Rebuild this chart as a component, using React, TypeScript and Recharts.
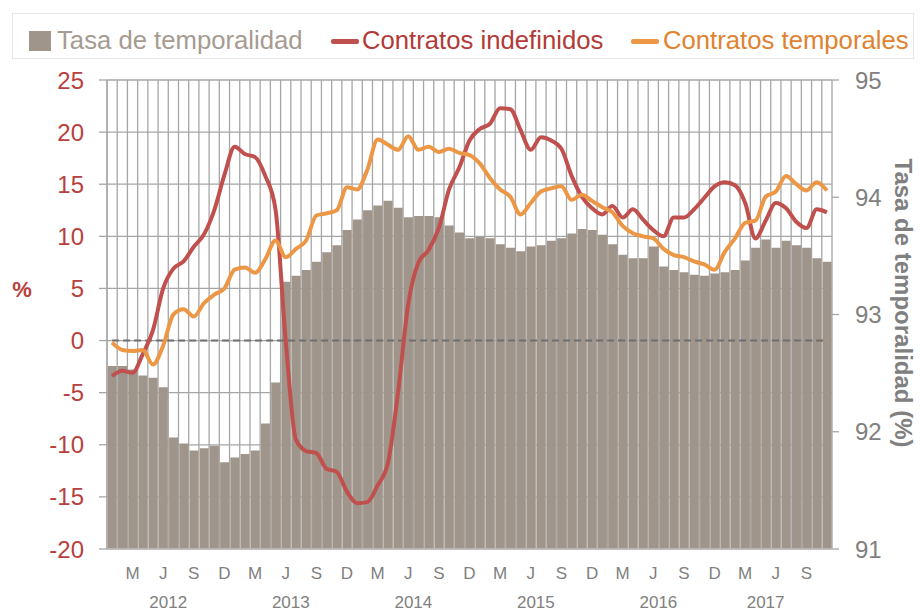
import React from "react";
import {
  ComposedChart,
  Bar,
  Line,
  XAxis,
  YAxis,
  CartesianGrid,
  Label,
} from "recharts";

// monthly data, Jan 2012 .. Nov 2017
const years = ["2012", "2013", "2014", "2015", "2016", "2017"];
const monthLetters = ["E", "F", "M", "A", "M", "J", "J", "A", "S", "O", "N", "D"];
const shownMonths = [2, 5, 8, 11];

// Tasa de temporalidad (%), right axis
const tasa = [
  92.56, 92.56, 92.53, 92.48, 92.46, 92.38, 91.95, 91.9, 91.84, 91.86, 91.88, 91.74,
  91.78, 91.81, 91.84, 92.07, 92.42, 93.28, 93.33, 93.38, 93.45, 93.53, 93.59, 93.72,
  93.81, 93.89, 93.93, 93.97, 93.91, 93.83, 93.84, 93.84, 93.83, 93.76, 93.7, 93.65,
  93.66, 93.65, 93.6, 93.57, 93.54, 93.58, 93.59, 93.63, 93.65, 93.69, 93.73, 93.72,
  93.68, 93.6, 93.51, 93.48, 93.48, 93.58, 93.41, 93.38, 93.36, 93.34, 93.33, 93.35,
  93.36, 93.38, 93.46, 93.57, 93.64, 93.57, 93.63, 93.59, 93.57, 93.48, 93.45,
];

// Contratos indefinidos (% interanual)
const indefinidos = [
  -3.4, -2.9, -3.1, -1.3, 1.0, 5.0, 6.9, 7.6, 9.0, 10.2, 12.5, 15.9,
  18.6, 17.9, 17.6, 15.8, 12.6, 0.0, -9.5, -10.6, -10.8, -12.3, -12.6, -14.5,
  -15.6, -15.5, -13.9, -11.8, -5.0, 3.5, 7.5, 8.7, 10.8, 14.5, 16.6, 19.2,
  20.3, 20.8, 22.3, 22.2, 20.2, 18.3, 19.5, 19.2, 18.4, 15.8, 13.8, 12.7,
  12.1, 12.9, 11.8, 12.6, 11.6, 10.6, 10.0, 11.8, 11.8, 12.6, 13.7, 14.8,
  15.2, 14.9, 13.2, 9.8, 11.5, 13.2, 12.7, 11.4, 10.8, 12.6, 12.3,
];

// Contratos temporales (% interanual)
const temporales = [
  -0.2, -0.9, -1.0, -0.9, -2.3, -0.5, 2.5, 3.0, 2.3, 3.6, 4.4, 5.0,
  6.8, 7.0, 6.5, 7.8, 9.6, 8.0, 8.8, 9.6, 12.0, 12.2, 12.5, 14.7,
  14.5, 16.4, 19.3, 18.8, 18.3, 19.6, 18.3, 18.6, 18.1, 18.4, 18.0, 17.8,
  17.0, 15.6, 14.5, 13.8, 12.1, 13.2, 14.3, 14.6, 14.8, 13.5, 14.0, 13.4,
  12.8, 12.3, 11.0, 10.3, 10.0, 9.8, 8.8, 8.2, 8.0, 7.6, 7.3, 6.8,
  8.5, 9.8, 11.3, 11.5, 13.8, 14.3, 15.8, 15.0, 14.4, 15.2, 14.4,
];

const leftTicks = [-20, -15, -10, -5, 0, 5, 10, 15, 20, 25];
const rightTicks = [91, 92, 93, 94, 95];
const ZERO = 0; // dashed reference level on the left axis

const data = tasa.map((t, i) => ({
  i,
  tasa: t,
  indefinidos: indefinidos[i],
  temporales: temporales[i],
  zero: ZERO,
}));

const W = 920;
const H = 613;
const LEFT_W = 107;
const RIGHT_W = 88;
const PLOT_W = W - LEFT_W - RIGHT_W;
const BAND = PLOT_W / data.length;

const RED = "#C0504D";
const ORANGE = "#EC9746";
const BAR = "#A0958A";
const GRID = "#A6A6A6";
const FONT = '"Liberation Sans", Arial, sans-serif';

function MonthTick(props: any) {
  const { x, y, payload } = props;
  const i = Number(payload.value);
  const m = i % 12;
  const yr = Math.floor(i / 12);
  const full = data.length - yr * 12 >= 12;
  let yearX: number | null = null;
  if (full && m === 5) yearX = x + BAND / 2;
  if (!full && m === 4) yearX = x;
  return (
    <g>
      {shownMonths.includes(m) && (
        <text x={x} y={y + 30} textAnchor="middle" fontSize={17} fill="#808080" fontFamily={FONT}>
          {monthLetters[m]}
        </text>
      )}
      {yearX !== null && (
        <text x={yearX} y={y + 59} textAnchor="middle" fontSize={17} fill="#808080" fontFamily={FONT}>
          {years[yr]}
        </text>
      )}
    </g>
  );
}

function ChartLegend() {
  const item = { position: "absolute" as const, fontSize: 25.7, lineHeight: "28px", fontFamily: FONT, whiteSpace: "nowrap" as const };
  return (
    <div
      style={{
        position: "absolute",
        left: 12,
        top: 13,
        width: 902,
        height: 46,
        border: "1px solid #E6E6E6",
        boxSizing: "border-box",
      }}
    >
      <div style={{ position: "absolute", left: 16, top: 17, width: 22, height: 20, background: BAR }} />
      <div style={{ ...item, left: 44, top: 12, color: "#A59B91" }}>Tasa de temporalidad</div>
      <div style={{ position: "absolute", left: 318, top: 25, width: 28, height: 5, borderRadius: 2, background: RED }} />
      <div style={{ ...item, left: 349, top: 12, color: "#B23B38" }}>Contratos indefinidos</div>
      <div style={{ position: "absolute", left: 618, top: 25, width: 28, height: 5, borderRadius: 2, background: ORANGE }} />
      <div style={{ ...item, left: 650, top: 12, color: "#E0822F" }}>Contratos temporales</div>
    </div>
  );
}

export default function App() {
  return (
    <div
      style={{
        position: "absolute",
        left: 0,
        top: 0,
        width: W,
        height: H,
        background: "#fff",
        fontFamily: FONT,
      }}
    >
      <ChartLegend />
      <ComposedChart
        width={W}
        height={H}
        data={data}
        margin={{ top: 80, right: 0, bottom: 0, left: 0 }}
        barCategoryGap={0.8}
      >
        <CartesianGrid
          stroke={GRID}
          strokeWidth={1.3}
          verticalCoordinatesGenerator={({ offset }: any) =>
            Array.from({ length: data.length + 1 }, (_, k) => offset.left + (k * offset.width) / data.length)
          }
        />
        <XAxis
          dataKey="i"
          type="category"
          interval={0}
          tickLine={false}
          tickSize={0}
          tickMargin={0}
          axisLine={{ stroke: "#BFBFBF", strokeWidth: 1.5 }}
          height={64}
          tick={<MonthTick />}
        />
        <YAxis
          domain={[-20, 25]}
          ticks={leftTicks}
          width={LEFT_W}
          tickSize={8}
          tickMargin={15}
          axisLine={{ stroke: GRID, strokeWidth: 1.3 }}
          tickLine={{ stroke: GRID, strokeWidth: 1.3 }}
          tick={{ fill: "#B8403D", fontSize: 24, fontFamily: FONT }}
          allowDataOverflow
        >
          <Label
            content={() => (
              <text x={22} y={297} textAnchor="middle" fontSize={22} fontWeight="bold" fill="#B8403D" fontFamily={FONT}>
                %
              </text>
            )}
          />
        </YAxis>
        <YAxis
          yAxisId="right"
          orientation="right"
          domain={[91, 95]}
          ticks={rightTicks}
          width={RIGHT_W}
          tickSize={7}
          tickMargin={16}
          axisLine={false}
          tickLine={{ stroke: GRID, strokeWidth: 1.3 }}
          tick={{ fill: "#808080", fontSize: 24, fontFamily: FONT }}
          allowDataOverflow
        >
          <Label
            content={() => (
              <text
                x={903}
                y={303}
                transform="rotate(90 903 303)"
                textAnchor="middle"
                dominantBaseline="central"
                fontSize={24}
                fontWeight="bold"
                fill="#808080"
                fontFamily={FONT}
              >
                Tasa de temporalidad (%)
              </text>
            )}
          />
        </YAxis>
        <Bar dataKey="tasa" yAxisId="right" fill={BAR} isAnimationActive={false} />
        {/* zero reference, drawn as a series so it sits above the bars */}
        <Line
          dataKey="zero"
          type="linear"
          stroke="#6F6F6F"
          strokeWidth={2}
          strokeDasharray="7 4"
          dot={false}
          activeDot={false}
          legendType="none"
          isAnimationActive={false}
        />
        <Line
          dataKey="indefinidos"
          type="monotone"
          stroke={RED}
          strokeWidth={4}
          dot={false}
          isAnimationActive={false}
        />
        <Line
          dataKey="temporales"
          type="monotone"
          stroke={ORANGE}
          strokeWidth={4}
          dot={false}
          isAnimationActive={false}
        />
      </ComposedChart>
    </div>
  );
}
